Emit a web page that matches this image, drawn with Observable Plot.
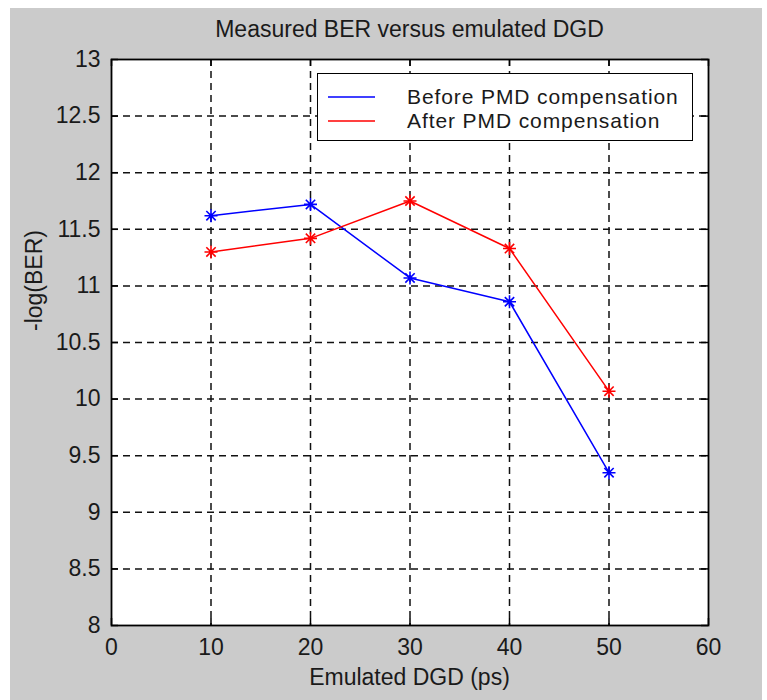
<!DOCTYPE html>
<html>
<head>
<meta charset="utf-8">
<script src="https://cdn.jsdelivr.net/npm/d3@7"></script>
<script src="https://cdn.jsdelivr.net/npm/@observablehq/plot@0.6"></script>
<style>
  html, body { margin: 0; padding: 0; background: #ffffff; }
  #wrap { position: relative; width: 767px; height: 700px; overflow: hidden; background: #ffffff;
          font-family: "Liberation Sans", Arial, Helvetica, sans-serif; color: #1a1a1a; }
  #bg { position: absolute; left: 10px; top: 8px; width: 752px; height: 692px; background: #cbcbcb; }
  #chart svg { position: absolute; left: 0; top: 0; }
  .txt { position: absolute; font-size: 23px; line-height: 23px; white-space: nowrap; }
  #legend { position: absolute; left: 317px; top: 73px; width: 376px; height: 68px; box-sizing: border-box;
            background: #ffffff; border: 1.5px solid #000; }
  .lrow { position: absolute; left: 0; height: 24px; width: 100%; }
  .lrow svg { position: absolute; left: 10px; top: 0; }
  .lrow span { position: absolute; display: block; left: 89px; top: 0; height: 24px; font-size: 21px; line-height: 24px;
               letter-spacing: 0.9px; white-space: nowrap; }
</style>
</head>
<body>
<div id="wrap">
  <div id="bg"></div>
  <div id="chart"></div>
  <div class="txt" id="title"></div>
  <div class="txt" id="xlabel"></div>
  <div class="txt" id="ylabel"></div>
  <div id="legend"></div>
</div>
<script>
// ---- data ----
const dgd = [10, 20, 30, 40, 50];
const beforeBER = [11.62, 11.72, 11.07, 10.86, 9.35];
const afterBER = [11.30, 11.42, 11.75, 11.33, 10.07];
const seriesNames = ["Before PMD compensation", "After PMD compensation"];
const seriesColors = ["#0000ff", "#ff0000"];
const xTicks = [0, 10, 20, 30, 40, 50, 60];
const yTicks = [8, 8.5, 9, 9.5, 10, 10.5, 11, 11.5, 12, 12.5, 13];
const titleText = "Measured BER versus emulated DGD";
const xLabelText = "Emulated DGD (ps)";
const yLabelText = "-log(BER)";

// ---- table ----
const rows = [];
dgd.forEach((x, i) => rows.push({x, y: beforeBER[i], series: seriesNames[0]}));
dgd.forEach((x, i) => rows.push({x, y: afterBER[i], series: seriesNames[1]}));

// MATLAB-like '*' marker: plus + cross
const star = {
  draw(context, size) {
    const r = Math.sqrt(size / Math.PI);
    const d = r * 0.72;
    context.moveTo(-r, 0); context.lineTo(r, 0);
    context.moveTo(0, -r); context.lineTo(0, r);
    context.moveTo(-d, -d); context.lineTo(d, d);
    context.moveTo(-d, d); context.lineTo(d, -d);
  }
};

const W = 767, H = 700;
const mL = 111, mR = 59, mT = 59, mB = 75;
const plotW = W - mL - mR, plotH = H - mT - mB;
const tickLen = 7;
const xDomain = [xTicks[0], xTicks[xTicks.length - 1]];
const yDomain = [yTicks[0], yTicks[yTicks.length - 1]];
const innerX = xTicks.slice(1, -1);
const innerY = yTicks.slice(1, -1);

const chart = Plot.plot({
  width: W, height: H,
  marginLeft: mL, marginRight: mR, marginTop: mT, marginBottom: mB,
  style: {background: "transparent", fontFamily: "'Liberation Sans', Arial, sans-serif", fontSize: "23px", color: "#1a1a1a", overflow: "visible"},
  x: {domain: xDomain},
  y: {domain: yDomain},
  color: {domain: seriesNames, range: seriesColors},
  marks: [
    Plot.frame({fill: "#ffffff", stroke: "none"}),
    Plot.ruleX(innerX, {x: d => d, stroke: "#111", strokeWidth: 1.5, strokeDasharray: "7,5"}),
    Plot.ruleY(innerY, {y: d => d, stroke: "#111", strokeWidth: 1.5, strokeDasharray: "7,5"}),
    Plot.tickX(xTicks, {x: d => d, insetTop: plotH - tickLen, stroke: "#000", strokeWidth: 1.5}),
    Plot.tickX(xTicks, {x: d => d, insetBottom: plotH - tickLen, stroke: "#000", strokeWidth: 1.5}),
    Plot.tickY(yTicks, {y: d => d, insetRight: plotW - tickLen, stroke: "#000", strokeWidth: 1.5}),
    Plot.tickY(yTicks, {y: d => d, insetLeft: plotW - tickLen, stroke: "#000", strokeWidth: 1.5}),
    Plot.line(rows, {x: "x", y: "y", z: "series", stroke: "series", strokeWidth: 1.5}),
    Plot.dot(rows, {x: "x", y: "y", stroke: "series", symbol: star, r: 6.5, strokeWidth: 1.6, fill: "none"}),
    Plot.frame({stroke: "#000", strokeWidth: 1.8}),
    Plot.axisX(xTicks, {tickSize: 0, tickPadding: 13, label: null, tickFormat: d => String(d)}),
    Plot.axisY(yTicks, {tickSize: 0, tickPadding: 11, label: null, tickFormat: d => String(d)})
  ]
});
document.getElementById("chart").appendChild(chart);

// ---- texts ----
const t = document.getElementById("title");
t.textContent = titleText;
t.style.left = "0px"; t.style.width = (mL * 2 + plotW) + "px"; t.style.textAlign = "center";
t.style.top = "18px";

const xl = document.getElementById("xlabel");
xl.textContent = xLabelText;
xl.style.left = "0px"; xl.style.width = (mL * 2 + plotW) + "px"; xl.style.textAlign = "center";
xl.style.top = "666px";

const yl = document.getElementById("ylabel");
yl.textContent = yLabelText;
yl.style.width = "200px"; yl.style.height = "23px"; yl.style.textAlign = "center";
yl.style.left = (34 - 100) + "px"; yl.style.top = (280 - 11.5) + "px";
yl.style.transform = "rotate(-90deg)";

// ---- legend ----
const lg = document.getElementById("legend");
seriesNames.forEach((name, i) => {
  const row = document.createElement("div");
  row.className = "lrow";
  row.style.top = (10.5 + i * 24) + "px";
  row.innerHTML = `<svg width="50" height="24"><line x1="0" x2="47" y1="12" y2="12" stroke="${seriesColors[i]}" stroke-width="1.5"/></svg><span>${name}</span>`;
  lg.appendChild(row);
});
</script>
</body>
</html>
